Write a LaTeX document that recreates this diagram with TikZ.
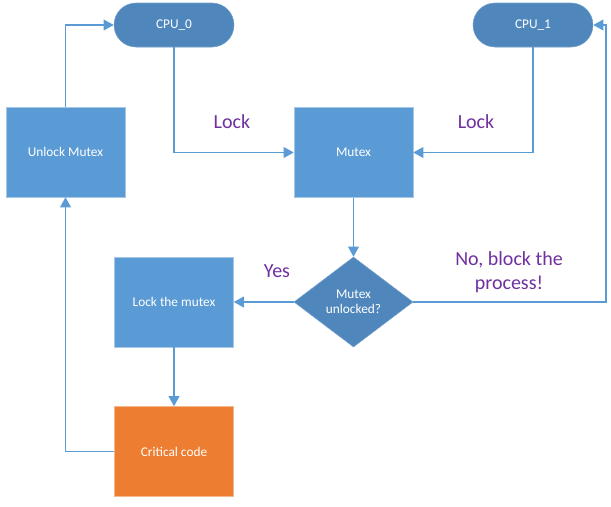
\documentclass[tikz,border=0pt]{standalone}
\usepackage{fontspec}
\setmainfont{Carlito}
\usetikzlibrary{arrows.meta,shapes.geometric}
\definecolor{boxblue}{HTML}{5B9BD5}
\definecolor{pillblue}{HTML}{4F87BC}
\definecolor{critorange}{HTML}{ED7D31}
\definecolor{labelpurple}{HTML}{7030A0}

\begin{document}
\begin{tikzpicture}[x=0.75pt,y=-0.75pt,
  box/.style={rectangle,fill=boxblue,draw=boxblue!55!white,line width=0.4pt,
    minimum width=89.25pt,minimum height=67.5pt,inner sep=0pt,text=white,
    font=\fontsize{10}{12}\selectfont},
  pill/.style={rectangle,rounded corners=16.5pt,fill=pillblue,draw=pillblue!80!white,
    line width=0.4pt,minimum width=90pt,minimum height=33pt,text=white,
    font=\fontsize{10}{12}\selectfont},
  decision/.style={diamond,aspect=1.32,fill=pillblue,draw=pillblue!80!white,
    line width=0.4pt,minimum width=89.25pt,minimum height=67.5pt,inner sep=0pt,
    text=white,align=center,font=\fontsize{10}{11.5}\selectfont},
  flow/.style={draw=boxblue,line width=1pt,-{Triangle[length=7.5pt,width=8pt]}},
  lbl/.style={text=labelpurple,align=center,font=\fontsize{15}{18.5}\selectfont}]
\useasboundingbox[fill=white] (0,0) rectangle (611,507);

\node[pill] (cpu0) at (174,25) {CPU\_0};
\node[pill] (cpu1) at (533,25) {CPU\_1};
\node[box] (unlock) at (65.5,152) {Unlock Mutex};
\node[box] (mutex) at (353.5,152.5) {Mutex};
\node[decision] (dec) at (353.5,302) {Mutex\\unlocked?};
\node[box] (lockm) at (174,302) {Lock the mutex};
\node[box,fill=critorange,draw=critorange!55!white] (crit) at (174,451.5) {Critical code};
\coordinate (turn) at (606,302);

\draw[flow] (cpu0.south) |- (mutex.west);
\draw[flow] (cpu1.south) |- (mutex.east);
\draw[flow] (mutex) -- (dec);
\draw[flow] (dec.west) -- (lockm.east);
\draw[flow] (dec.east) -- (turn) |- (cpu1.east);
\draw[flow] (lockm) -- (crit);
\draw[flow] (crit.west) -| (unlock.south);
\draw[flow] (unlock.north) |- (cpu0.west);

\node[lbl] (lock0) at (232,122) {Lock};
\node[lbl] (lock1) at (476,122) {Lock};
\node[lbl] (yes) at (277,271) {Yes};
\node[lbl] (no) at (509,272) {No, block the\\process!};
\end{tikzpicture}
\end{document}
